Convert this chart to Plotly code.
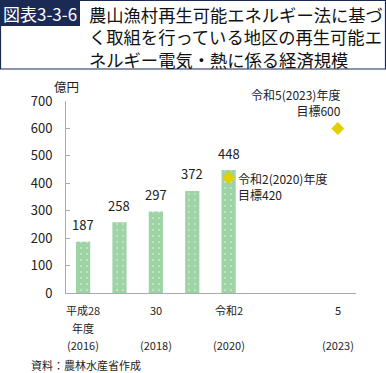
import plotly.graph_objects as go

# ---- data ----
years = [2016, 2017, 2018, 2019, 2020]
values = [187, 258, 297, 372, 448]
target_years = [2020, 2023]
target_values = [420, 600]
target_labels = ["令和2(2020)年度<br>目標420", "令和5(2023)年度<br>目標600"]
tick_years = [2016, 2018, 2020, 2023]
tick_line1 = ["平成28", "30", "令和2", "5"]
tick_line2 = ["年度", "", "", ""]
tick_line3 = ["(2016)", "(2018)", "(2020)", "(2023)"]
y_ticks = [0, 100, 200, 300, 400, 500, 600, 700]

W, H = 386, 373
L, R, T, B = 66, 30, 101, 80
PW, PH = W - L - R, H - T - B

def px(x):
    return (x - L) / PW

def py(y):
    return (H - B - y) / PH

FONT = "Noto Sans CJK JP"
BAR = "#9dd3a5"
NAVY = "#1b2a55"
YEL = "#e2cf00"

fig = go.Figure()
fig.add_trace(go.Bar(
    x=years, y=values, width=0.39,
    marker=dict(color=BAR, line=dict(width=0),
                pattern=dict(shape=".", fgcolor="white", bgcolor=BAR,
                             size=6, solidity=0.08)),
    hoverinfo="skip",
))
fig.add_trace(go.Scatter(
    x=target_years, y=target_values, mode="markers",
    marker=dict(symbol="diamond", size=10, color=YEL,
                line=dict(width=0)),
    hoverinfo="skip",
))

ann = []
# value labels
for x, v in zip(years, values):
    ann.append(dict(x=x, y=v, xref="x", yref="y", text=str(v), showarrow=False,
                    yshift=17, font=dict(size=13, color="#222", family=FONT)))
# target labels
ann.append(dict(x=target_years[0], y=target_values[0], xref="x", yref="y",
                text=target_labels[0], showarrow=False, xanchor="left", yanchor="middle",
                xshift=7, yshift=-9, align="left",
                font=dict(size=12, color="#222", family=FONT)))
ann.append(dict(x=target_years[1], y=target_values[1], xref="x", yref="y",
                text=target_labels[1], showarrow=False, xanchor="right", yanchor="bottom",
                xshift=5, yshift=7, align="right",
                font=dict(size=12, color="#222", family=FONT)))
# x tick labels
for x, a, b, c in zip(tick_years, tick_line1, tick_line2, tick_line3):
    for txt, yy in ((a, 310), (b, 328), (c, 345)):
        if txt:
            ann.append(dict(x=x, y=py(yy), xref="x", yref="paper", text=txt,
                            showarrow=False, yanchor="middle",
                            font=dict(size=11, color="#222", family=FONT)))
# unit
ann.append(dict(x=px(66), y=py(87), xref="paper", yref="paper", text="億円",
                showarrow=False, xanchor="center", yanchor="middle",
                font=dict(size=12.5, color="#222", family=FONT)))
# source
ann.append(dict(x=px(29), y=py(365), xref="paper", yref="paper", text="資料：農林水産省作成",
                showarrow=False, xanchor="left", yanchor="middle",
                font=dict(size=11, color="#222", family=FONT)))
# title label
ann.append(dict(x=px(40), y=py(13), xref="paper", yref="paper", text="図表3-3-6",
                showarrow=False, xanchor="center", yanchor="middle",
                font=dict(size=17, color="white", family=FONT)))
title_lines = ["農山漁村再生可能エネルギー法に基づ",
               "く取組を行っている地区の再生可能エ",
               "ネルギー電気・熱に係る経済規模"]
ann.append(dict(x=px(87), y=py(37), xref="paper", yref="paper",
                text="<br>".join(title_lines), align="left",
                showarrow=False, xanchor="left", yanchor="middle",
                font=dict(size=17.3, color="#111", family=FONT)))

shapes = [
    dict(type="rect", xref="paper", yref="paper", x0=px(0.5), x1=px(385.5),
         y0=py(0.5), y1=py(69), line=dict(color=NAVY, width=1.2), layer="below"),
    dict(type="rect", xref="paper", yref="paper", x0=px(0), x1=px(80),
         y0=py(0), y1=py(26), fillcolor=NAVY, line=dict(width=0), layer="below"),
]

fig.update_layout(
    width=W, height=H, margin=dict(l=L, r=R, t=T, b=B, pad=0),
    paper_bgcolor="white", plot_bgcolor="white", showlegend=False,
    annotations=ann, shapes=shapes,
    xaxis=dict(range=[2015.53, 2023.5], showticklabels=False, ticks="",
               showgrid=False, zeroline=False, showline=True,
               linecolor="#aaaaaa", linewidth=1, fixedrange=True),
    yaxis=dict(range=[0, 700], tickvals=y_ticks, ticks="inside", ticklen=4,
               tickcolor="#aaaaaa", showgrid=False, zeroline=False,
               showline=True, linecolor="#aaaaaa", linewidth=1,
               ticklabelstandoff=10,
               tickfont=dict(size=13, color="#222", family=FONT), fixedrange=True),
    font=dict(family=FONT),
)

fig.write_html("out.html", config={"displayModeBar": False},
               post_script="document.body.style.margin='0';document.body.style.overflow='hidden';")
